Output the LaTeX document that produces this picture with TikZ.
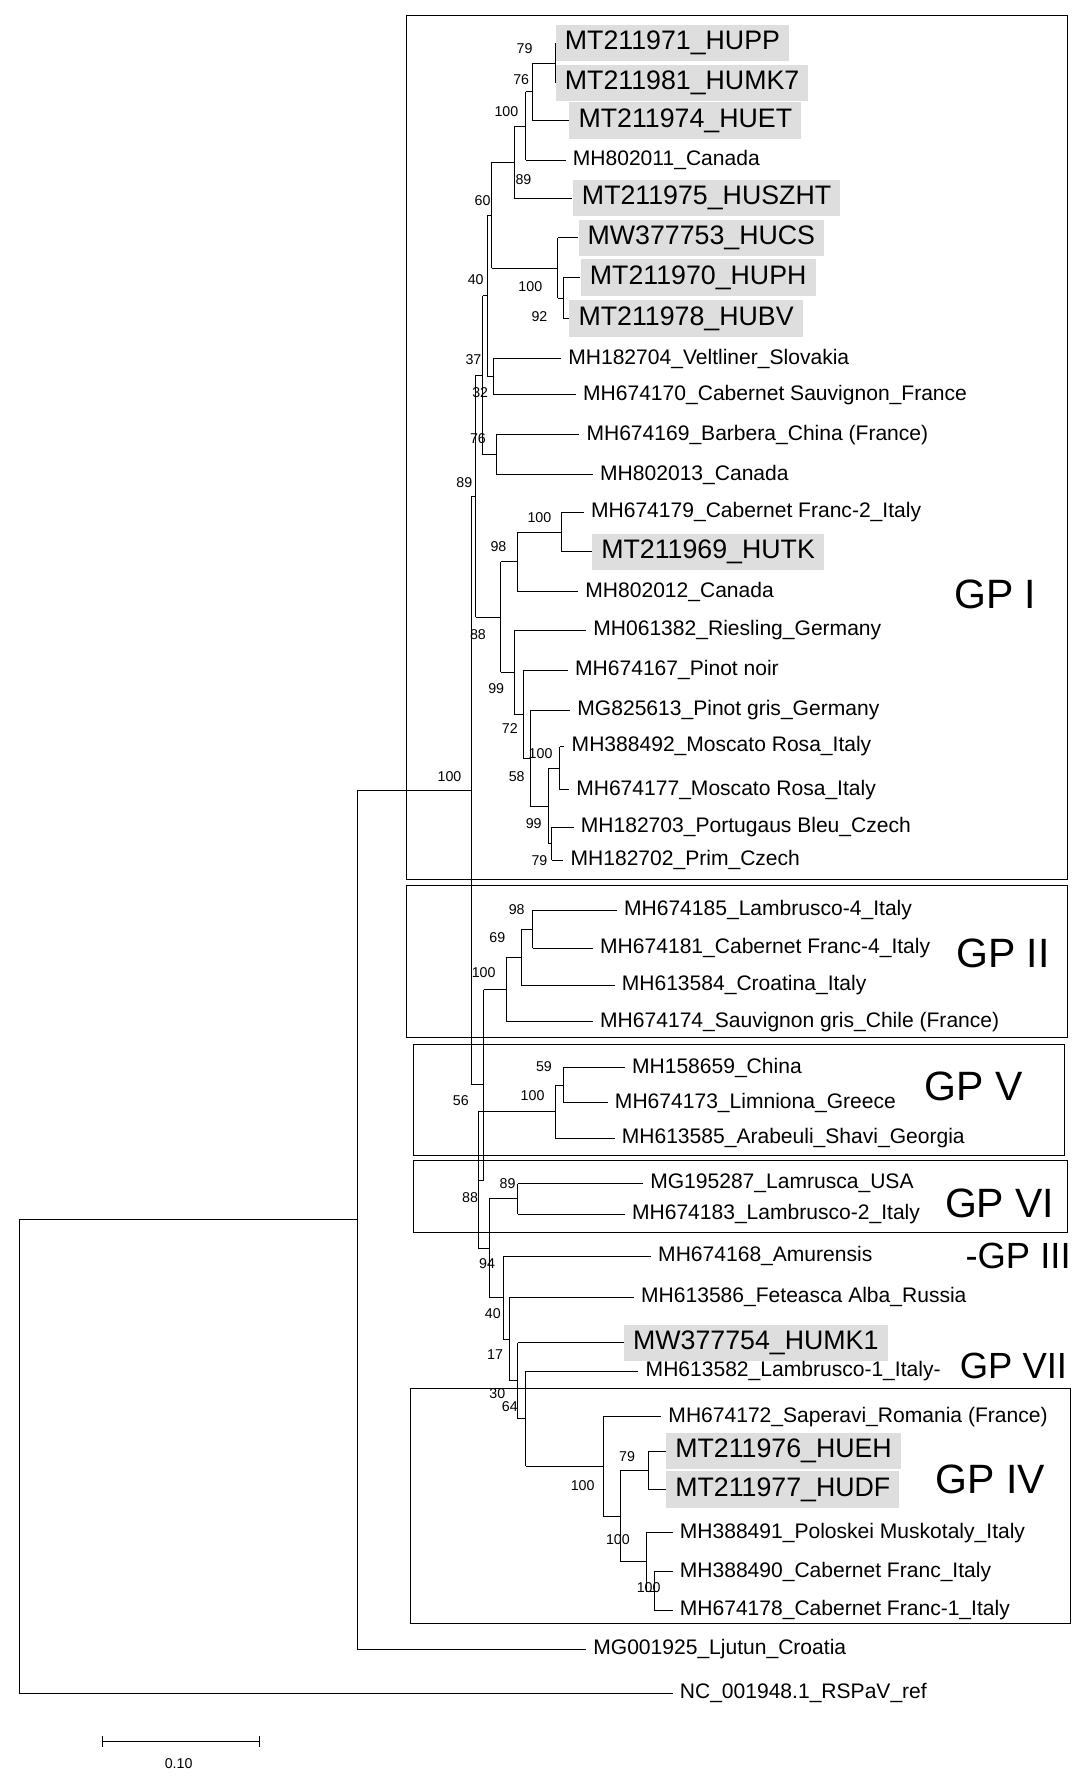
\documentclass[tikz,border=0pt]{standalone}
\usepackage{fontspec}
\setmainfont{Liberation Sans}
\usetikzlibrary{calc}
\tikzset{
 lab/.style={font=\fontsize{18.5}{20}\selectfont,inner sep=0pt,xshift=6pt},
 hlab/.style={font=\fontsize{23.5}{25}\selectfont,fill=black!13,inner xsep=8pt,minimum height=32pt,inner ysep=0pt},
 bs/.style={font=\fontsize{12.5}{13}\selectfont,inner sep=0pt},
 gp/.style={font=\fontsize{36}{38}\selectfont,inner sep=0pt,anchor=west},
 gps/.style={font=\fontsize{32}{34}\selectfont,inner sep=0pt,anchor=west},
 box/.style={draw,line width=0.9pt},
 every path/.style={line width=0.8pt}
}
\newcommand\lf[4]{\coordinate (#1) at (#2,#3); \node[lab,anchor=west] (t#1) at (#1) {#4};}
\newcommand\hl[4]{\coordinate (#1) at (#2,#3); \node[hlab,anchor=west] (t#1) at (#1) {#4};}
\newcommand\nd[4]{\path let \p1=(#3),\p2=(#4) in coordinate (#1) at ({#2pt},{0.5*\y1+0.5*\y2});
 \draw (#1|-#3)--(#1|-#4); \draw (#1|-#3)--(#3); \draw (#1|-#4)--(#4);}
\newcommand\bsl[3]{\node[bs] at (#1,#2) {#3};}
\begin{document}
\begin{tikzpicture}[x=1pt,y=-1pt]
\useasboundingbox (0,0) rectangle (950,1565);
% boxes
\draw[box] (357,14) rectangle (938,773);
\draw[box] (357,778) rectangle (938,912);
\draw[box] (363,918) rectangle (935,1015);
\draw[box] (363,1020) rectangle (938,1083);
\draw[box] (361,1220) rectangle (941,1427);
% leaves GP I
\hl{a1}{488}{38}{MT211971\_HUPP}
\hl{a2}{488}{73}{MT211981\_HUMK7}
\hl{a3}{500}{106}{MT211974\_HUET}
\lf{a4}{497}{141}{MH802011\_Canada}
\hl{a5}{503}{174}{MT211975\_HUSZHT}
\hl{a6}{508}{209}{MW377753\_HUCS}
\hl{a7}{510}{244}{MT211970\_HUPH}
\hl{a8}{500}{280}{MT211978\_HUBV}
\lf{a9}{493}{315}{MH182704\_Veltliner\_Slovakia}
\lf{a10}{506}{347}{MH674170\_Cabernet Sauvignon\_France}
\lf{a11}{509}{382}{MH674169\_Barbera\_China (France)}
\lf{a12}{521}{417}{MH802013\_Canada}
\lf{a13}{513}{450}{MH674179\_Cabernet Franc-2\_Italy}
\hl{a14}{520}{485}{MT211969\_HUTK}
\lf{a15}{508}{520}{MH802012\_Canada}
\lf{a16}{515}{554}{MH061382\_Riesling\_Germany}
\lf{a17}{499}{589}{MH674167\_Pinot noir}
\lf{a18}{501}{624}{MG825613\_Pinot gris\_Germany}
\lf{a19}{496}{656}{MH388492\_Moscato Rosa\_Italy}
\lf{a20}{500}{694}{MH674177\_Moscato Rosa\_Italy}
\lf{a21}{504}{727}{MH182703\_Portugaus Bleu\_Czech}
\lf{a22}{495}{756}{MH182702\_Prim\_Czech}
% GP II
\lf{b1}{542}{800}{MH674185\_Lambrusco-4\_Italy}
\lf{b2}{521}{833}{MH674181\_Cabernet Franc-4\_Italy}
\lf{b3}{540}{866}{MH613584\_Croatina\_Italy}
\lf{b4}{521}{898}{MH674174\_Sauvignon gris\_Chile (France)}
% GP V
\lf{c1}{549}{938}{MH158659\_China}
\lf{c2}{534}{969}{MH674173\_Limniona\_Greece}
\lf{c3}{540}{1000}{MH613585\_Arabeuli\_Shavi\_Georgia}
% GP VI
\lf{d1}{565}{1040}{MG195287\_Lamrusca\_USA}
\lf{d2}{549}{1067}{MH674183\_Lambrusco-2\_Italy}
\lf{e1}{572}{1104}{MH674168\_Amurensis}
\lf{e2}{557}{1140}{MH613586\_Feteasca Alba\_Russia}
\hl{e3}{548}{1180}{MW377754\_HUMK1}
\lf{e4}{561}{1205}{MH613582\_Lambrusco-1\_Italy-}
% GP IV
\lf{f1}{581}{1245}{MH674172\_Saperavi\_Romania (France)}
\hl{f2}{585}{1275}{MT211976\_HUEH}
\hl{f3}{585}{1309}{MT211977\_HUDF}
\lf{f4}{591}{1347}{MH388491\_Poloskei Muskotaly\_Italy}
\lf{f5}{591}{1381}{MH388490\_Cabernet Franc\_Italy}
\lf{f6}{591}{1415}{MH674178\_Cabernet Franc-1\_Italy}
\lf{g1}{515}{1449}{MG001925\_Ljutun\_Croatia}
\lf{g2}{591}{1488}{NC\_001948.1\_RSPaV\_ref}
% internal GP I
\nd{n1}{488}{a1}{a2}
\nd{n2}{468}{n1}{a3}
\nd{n3}{462}{n2}{a4}
\nd{n4}{452}{n3}{a5}
\nd{m1}{495}{a7}{a8}
\nd{m2}{490}{a6}{m1}
\nd{n5}{432}{n4}{m2}
\nd{n6}{434}{a9}{a10}
\nd{n7}{428}{n5}{n6}
\nd{n8}{436}{a11}{a12}
\nd{n9}{424}{n7}{n8}
\nd{n10}{493}{a13}{a14}
\nd{n11}{455}{n10}{a15}
\nd{p1}{485}{a21}{a22}
\nd{p2}{492}{a19}{a20}
\nd{n12}{482}{p2}{p1}
\nd{n13}{466}{a18}{n12}
\nd{n14}{460}{a17}{n13}
\nd{n15}{452}{a16}{n14}
\nd{n16}{440}{n11}{n15}
\nd{G1}{418}{n9}{n16}
% GP II
\nd{q1}{468}{b1}{b2}
\nd{q2}{458}{q1}{b3}
\nd{G2}{445}{q2}{b4}
% GP V
\nd{r1}{495}{c1}{c2}
\nd{G5}{488}{r1}{c3}
% GP IV and rest
\nd{s1}{575}{f5}{f6}
\nd{s2}{568}{f4}{s1}
\nd{s3}{570}{f2}{f3}
\nd{s4}{545}{s3}{s2}
\nd{s5}{530}{f1}{s4}
\nd{t1}{462}{e4}{s5}
\nd{t2}{455}{e3}{t1}
\nd{t3}{448}{e2}{t2}
\nd{t4}{442}{e1}{t3}
\nd{G6}{455}{d1}{d2}
\nd{t5}{430}{G6}{t4}
\nd{t6}{420}{G5}{t5}
\nd{t7}{425}{G2}{t6}
\nd{R}{414}{G1}{t7}
\nd{R2}{314}{R}{g1}
\nd{R3}{17}{R2}{g2}
% GP labels
\node[gp] (l1) at (838,522) {GP I};
\node[gp] (l2) at (840,838) {GP II};
\node[gp] (l5) at (812,955) {GP V};
\node[gp] (l6) at (830,1057) {GP VI};
\node[gps] (l3) at (848,1104) {-GP III};
\node[gps] (l7) at (843,1200) {GP VII};
\node[gp] (l4) at (822,1300) {GP IV};
% bootstrap
\bsl{461}{43}{79}\bsl{458}{70}{76}\bsl{445}{98}{100}\bsl{460}{158}{89}
\bsl{424}{176}{60}\bsl{418}{246}{40}\bsl{466}{252}{100}\bsl{474}{278}{92}
\bsl{416}{316}{37}\bsl{422}{345}{32}\bsl{420}{385}{76}\bsl{408}{424}{89}
\bsl{474}{455}{100}\bsl{438}{480}{98}\bsl{420}{558}{88}\bsl{436}{605}{99}
\bsl{448}{640}{72}\bsl{475}{662}{100}\bsl{454}{682}{58}\bsl{469}{724}{99}
\bsl{474}{756}{79}\bsl{395}{682}{100}\bsl{454}{799}{98}\bsl{437}{824}{69}
\bsl{425}{855}{100}\bsl{478}{937}{59}\bsl{468}{963}{100}\bsl{405}{967}{56}
\bsl{446}{1040}{89}\bsl{413}{1052}{88}\bsl{428}{1110}{94}\bsl{433}{1154}{40}
\bsl{435}{1190}{17}\bsl{437}{1225}{30}\bsl{448}{1236}{64}\bsl{512}{1305}{100}
\bsl{551}{1280}{79}\bsl{543}{1353}{100}\bsl{570}{1395}{100}
% scale bar
\coordinate (sb1) at (90,1530); \coordinate (sb2) at (228,1530);
\draw (sb1)--(sb2); \draw (sb1)++(0,-5)--++(0,10); \draw (sb2)++(0,-5)--++(0,10);
\node[bs] (sbl) at (157,1550) {0.10};
\end{tikzpicture}
\end{document}
